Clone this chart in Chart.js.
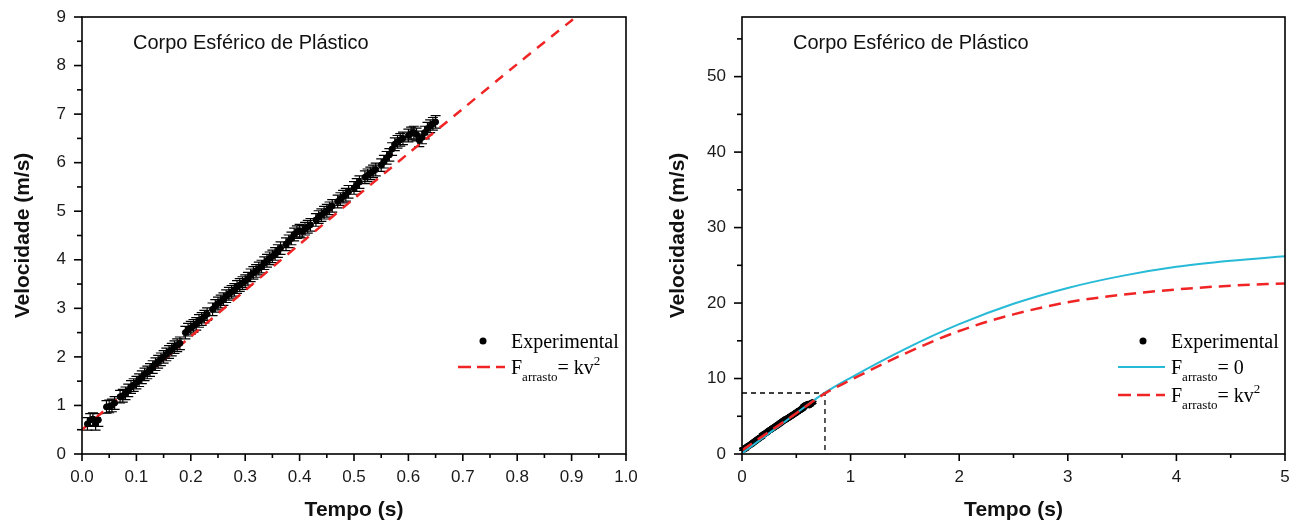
<!DOCTYPE html>
<html lang="pt">
<head>
  <meta charset="UTF-8" />
  <title>Corpo Esférico de Plástico</title>
  <script src="https://cdn.jsdelivr.net/npm/chart.js"></script>
  <style>
    body { margin: 0; background: #fff; overflow: hidden; }
    .painel { position: absolute; top: 0; }
    #esq { left: 0; }
    #dir { left: 646px; }
  </style>
</head>
<body>
  <div class="painel" id="esq"><canvas id="graficoEsq" width="646" height="526"></canvas></div>
  <div class="painel" id="dir"><canvas id="graficoDir" width="647" height="526"></canvas></div>

  <script>
    const tempoExp = [0.010,0.015,0.020,0.025,0.030,0.045,0.050,0.055,0.060,0.070,0.075,0.080,0.085,0.090,0.095,
      0.100,0.105,0.110,0.115,0.120,0.125,0.130,0.135,0.140,0.145,0.150,0.155,0.160,0.165,0.170,0.175,0.180,
      0.190,0.195,0.200,0.205,0.210,0.215,0.220,0.225,0.230,0.240,0.245,0.250,0.255,0.260,0.265,0.270,0.275,
      0.280,0.285,0.290,0.295,0.300,0.305,0.310,0.315,0.320,0.325,0.330,0.335,0.340,0.345,0.350,0.355,0.360,
      0.365,0.375,0.380,0.385,0.390,0.395,0.400,0.405,0.410,0.415,0.420,0.430,0.435,0.440,0.445,0.450,0.455,
      0.460,0.470,0.475,0.480,0.485,0.490,0.500,0.505,0.510,0.520,0.525,0.530,0.535,0.540,0.550,0.555,0.560,
      0.565,0.570,0.575,0.580,0.585,0.590,0.600,0.605,0.610,0.615,0.620,0.625,0.630,0.635,0.640,0.645,0.650];
    const velExp = [0.62,0.70,0.72,0.62,0.70,0.97,0.98,1.00,1.05,1.18,1.20,1.25,1.31,1.38,1.42,
      1.47,1.52,1.58,1.64,1.68,1.73,1.79,1.85,1.90,1.95,2.00,2.05,2.10,2.15,2.20,2.24,2.28,
      2.50,2.56,2.60,2.64,2.68,2.74,2.78,2.83,2.88,2.98,3.05,3.10,3.14,3.19,3.25,3.30,3.34,
      3.38,3.44,3.48,3.52,3.56,3.61,3.68,3.73,3.77,3.82,3.86,3.93,3.98,4.03,4.07,4.12,4.18,
      4.24,4.32,4.38,4.44,4.52,4.57,4.60,4.58,4.64,4.68,4.72,4.82,4.88,4.92,4.97,5.01,5.06,
      5.11,5.20,5.25,5.30,5.34,5.40,5.48,5.54,5.60,5.70,5.74,5.78,5.82,5.86,5.95,6.02,6.10,
      6.16,6.28,6.38,6.43,6.47,6.50,6.56,6.60,6.62,6.58,6.46,6.52,6.62,6.70,6.75,6.80,6.84];
    const erroVel = 0.13;

    // ajuste F = kv^2 (painel esquerdo)
    const tempoAjuste = [0, 0.1, 0.2, 0.3, 0.4, 0.5, 0.6, 0.7, 0.8, 0.9, 1.0];
    const velAjuste = [0.50, 1.46, 2.42, 3.37, 4.32, 5.26, 6.19, 7.11, 8.03, 8.93, 9.82];

    // modelos (painel direito)
    const tempoModelo = [0, 0.5, 0.75, 1, 1.5, 2, 2.5, 3, 3.5, 4, 4.5, 5];
    const velSemArrasto = [0.1, 5.4, 8.0, 10.1, 13.9, 17.2, 19.9, 22.0, 23.6, 24.8, 25.6, 26.2];
    const velComArrasto = [0.5, 5.4, 7.9, 9.8, 13.3, 16.3, 18.5, 20.1, 21.1, 21.8, 22.3, 22.6];

    // linhas tracejadas de referência
    const tempoRef = [0, 0.764, 0.764];
    const velRef = [8.08, 8.08, 0];

    const pontos = (xs, ys) => xs.map((x, i) => ({ x: x, y: ys[i] }));

    const VERMELHO = 'rgb(240,36,36)';
    const CIANO = 'rgb(38,186,214)';
    const fonteEixo = { family: 'Liberation Sans, Arial, sans-serif', size: 17 };
    const fonteTitulo = { family: 'Liberation Sans, Arial, sans-serif', size: 21, weight: 'bold' };

    // moldura, marcas dos eixos, barras de erro, rótulo e legenda
    const moldura = {
      id: 'moldura',
      beforeDatasetsDraw(chart, args, opts) {
        const { ctx, scales: { x, y } } = chart;
        ctx.save();
        ctx.strokeStyle = '#000';
        ctx.lineWidth = 1.2;
        chart.data.datasets.forEach(ds => {
          if (ds.erro === undefined) return;
          ds.data.forEach(p => {
            const px = x.getPixelForValue(p.x);
            const y1 = y.getPixelForValue(p.y + ds.erro);
            const y2 = y.getPixelForValue(p.y - ds.erro);
            ctx.beginPath();
            ctx.moveTo(px, y1); ctx.lineTo(px, y2);
            ctx.moveTo(px - opts.capa, y1); ctx.lineTo(px + opts.capa, y1);
            ctx.moveTo(px - opts.capa, y2); ctx.lineTo(px + opts.capa, y2);
            ctx.stroke();
          });
        });
        ctx.restore();
      },
      afterDatasetsDraw(chart, args, opts) {
        const { ctx, chartArea: a, scales: { x, y } } = chart;
        ctx.save();
        ctx.strokeStyle = '#000';
        ctx.lineWidth = 1.6;
        ctx.strokeRect(a.left, a.top, a.right - a.left, a.bottom - a.top);

        const nx = Math.round((x.max - x.min) / opts.xMenor);
        for (let i = 0; i <= nx; i++) {
          const px = x.getPixelForValue(x.min + i * opts.xMenor);
          const len = i % 2 === 0 ? 7 : 4;
          ctx.beginPath(); ctx.moveTo(px, a.bottom); ctx.lineTo(px, a.bottom + len); ctx.stroke();
        }
        const ny = Math.floor((y.max - y.min) / opts.yMenor + 1e-6);
        for (let i = 0; i <= ny; i++) {
          const py = y.getPixelForValue(y.min + i * opts.yMenor);
          const len = i % 2 === 0 ? 8 : 5;
          ctx.beginPath(); ctx.moveTo(a.left, py); ctx.lineTo(a.left - len, py); ctx.stroke();
        }

        // rótulo dentro do gráfico
        ctx.fillStyle = '#111';
        ctx.font = '20px "Liberation Sans", Arial, sans-serif';
        ctx.textBaseline = 'middle';
        ctx.textAlign = 'left';
        ctx.fillText(opts.rotulo, a.left + 51, a.top + 26);

        // legenda
        const tx = a.right - opts.legDireita;
        opts.legenda.forEach((item, i) => {
          const ry = a.bottom + opts.legLinhas[i];
          const ds = chart.data.datasets.find(d => d.label === item.serie);
          ctx.save();
          if (ds.showLine === false) {
            ctx.fillStyle = '#000';
            ctx.beginPath(); ctx.arc(tx - 28, ry, 3.5, 0, Math.PI * 2); ctx.fill();
          } else {
            ctx.strokeStyle = ds.borderColor;
            ctx.lineWidth = ds.borderWidth;
            ctx.setLineDash(ds.borderDash ? [13, 6] : []);
            ctx.beginPath(); ctx.moveTo(tx - 53, ry); ctx.lineTo(tx - 6, ry); ctx.stroke();
          }
          ctx.restore();
          let cx = tx;
          ctx.fillStyle = '#000';
          ctx.textBaseline = 'alphabetic';
          item.partes.forEach(([texto, tipo]) => {
            let dy = 7;
            if (tipo === 'sub') { ctx.font = '13px "Liberation Serif", "Times New Roman", serif'; dy = 14; }
            else if (tipo === 'sup') { ctx.font = '13px "Liberation Serif", "Times New Roman", serif'; dy = -2; }
            else ctx.font = '20px "Liberation Serif", "Times New Roman", serif';
            ctx.fillText(texto, cx, ry + dy);
            cx += ctx.measureText(texto).width;
          });
        });
        ctx.restore();
      }
    };

    // só os valores múltiplos do passo recebem rótulo
    const soMultiplos = passo => s => {
      s.ticks = s.ticks.filter(t => Math.abs(t.value / passo - Math.round(t.value / passo)) < 1e-6);
    };

    function eixos(xMax, xPasso, xDecimais, yMax, yPasso, larguraY, tituloYPad) {
      return {
        x: {
          type: 'linear', min: 0, max: xMax,
          grid: { display: false, drawTicks: false },
          border: { display: false },
          ticks: {
            stepSize: xPasso, padding: 13, color: '#1a1a1a', font: fonteEixo, maxRotation: 0,
            callback: v => v.toFixed(xDecimais)
          },
          title: { display: true, text: 'Tempo (s)', color: '#111', font: fonteTitulo, padding: { top: 0, bottom: 3 } },
          afterBuildTicks: soMultiplos(xPasso),
          afterFit: s => { s.height = 72; s.paddingLeft = 0; s.paddingRight = 0; }
        },
        y: {
          type: 'linear', min: 0, max: yMax,
          grid: { display: false, drawTicks: false },
          border: { display: false },
          ticks: { stepSize: yPasso, padding: 16, color: '#1a1a1a', font: fonteEixo },
          title: { display: true, text: 'Velocidade (m/s)', color: '#111', font: fonteTitulo, padding: { top: tituloYPad, bottom: 0 } },
          afterBuildTicks: soMultiplos(yPasso),
          afterFit: s => { s.width = larguraY; s.paddingTop = 0; s.paddingBottom = 0; }
        }
      };
    }

    const comum = {
      responsive: false,
      animation: false,
      plugins: { legend: { display: false }, tooltip: { enabled: false } },
      elements: { point: { radius: 0 } }
    };

    new Chart(document.getElementById('graficoEsq'), {
      type: 'scatter',
      data: {
        datasets: [
          {
            label: 'Farrasto= kv²', data: pontos(tempoAjuste, velAjuste), showLine: true,
            borderColor: VERMELHO, borderWidth: 2.5, borderDash: [10, 8], pointRadius: 0, tension: 0.3, order: 2
          },
          {
            label: 'Experimental', data: pontos(tempoExp, velExp), showLine: false, erro: erroVel,
            pointRadius: 3, pointBackgroundColor: '#000', pointBorderColor: '#000', order: 1
          }
        ]
      },
      options: {
        ...comum,
        layout: { padding: { top: 17, right: 20, bottom: 0, left: 0 } },
        scales: eixos(1, 0.1, 1, 9, 1, 82, 11),
        plugins: {
          ...comum.plugins,
          moldura: {
            xMenor: 0.05, yMenor: 0.5, capa: 5, rotulo: 'Corpo Esférico de Plástico',
            legDireita: 115, legLinhas: [-113, -87],
            legenda: [
              { serie: 'Experimental', partes: [['Experimental', 'n']] },
              { serie: 'Farrasto= kv²', partes: [['F', 'n'], ['arrasto', 'sub'], ['= kv', 'n'], ['2', 'sup']] }
            ]
          }
        }
      },
      plugins: [moldura]
    });

    new Chart(document.getElementById('graficoDir'), {
      type: 'scatter',
      data: {
        datasets: [
          {
            label: 'Farrasto= kv²', data: pontos(tempoModelo, velComArrasto), showLine: true,
            borderColor: VERMELHO, borderWidth: 2.5, borderDash: [12, 7], pointRadius: 0,
            cubicInterpolationMode: 'monotone', order: 0
          },
          {
            label: 'Farrasto= 0', data: pontos(tempoModelo, velSemArrasto), showLine: true,
            borderColor: CIANO, borderWidth: 2, pointRadius: 0, cubicInterpolationMode: 'monotone', order: 1
          },
          {
            label: 'Experimental', data: pontos(tempoExp, velExp), showLine: false, erro: erroVel,
            pointRadius: 2.8, pointBackgroundColor: '#000', pointBorderColor: '#000', order: 2
          },
          {
            label: 'referência', data: pontos(tempoRef, velRef), showLine: true,
            borderColor: '#000', borderWidth: 1.3, borderDash: [5, 4], pointRadius: 0, order: 3
          }
        ]
      },
      options: {
        ...comum,
        layout: { padding: { top: 17, right: 8, bottom: 0, left: 0 } },
        scales: eixos(5, 1, 0, 57.9, 10, 96, 20),
        plugins: {
          ...comum.plugins,
          moldura: {
            xMenor: 0.5, yMenor: 5, capa: 4, rotulo: 'Corpo Esférico de Plástico',
            legDireita: 114, legLinhas: [-113, -87, -59],
            legenda: [
              { serie: 'Experimental', partes: [['Experimental', 'n']] },
              { serie: 'Farrasto= 0', partes: [['F', 'n'], ['arrasto', 'sub'], ['= 0', 'n']] },
              { serie: 'Farrasto= kv²', partes: [['F', 'n'], ['arrasto', 'sub'], ['= kv', 'n'], ['2', 'sup']] }
            ]
          }
        }
      },
      plugins: [moldura]
    });
  </script>
</body>
</html>
